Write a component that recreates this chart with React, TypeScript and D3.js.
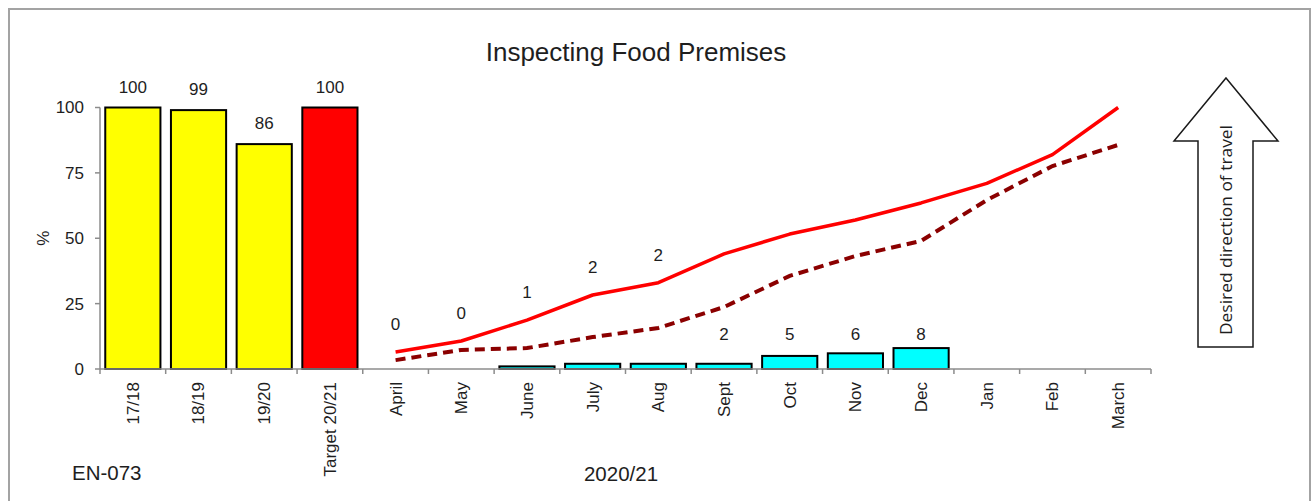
import React from "react";
import * as d3 from "d3";

// annual results + target
const annualLabels = ["17/18", "18/19", "19/20", "Target 20/21"];
const annualValues = [100, 99, 86, 100];

// monthly 2020/21
const months = ["April", "May", "June", "July", "Aug", "Sept", "Oct", "Nov", "Dec", "Jan", "Feb", "March"];
const monthlyActual = [0, 0, 1, 2, 2, 2, 5, 6, 8, null, null, null];
const targetProfile = [6.5, 10.7, 18.7, 28.3, 33, 44, 51.6, 57, 63.5, 71, 82, 100];
const lastYearProfile = [3.4, 7.3, 8, 12.2, 15.7, 23.7, 35.6, 43.2, 49, 64.6, 77.6, 85.7];

const yTicks = [0, 25, 50, 75, 100];

const W = 1316;
const H = 501;
const FONT = "'Liberation Sans', Arial, sans-serif";
const TEXT = "#1e1e1e";
const AXIS = "#8c8c8c";

const App = () => {
  const categories = [...annualLabels, ...months];
  const x = d3.scaleBand<string>().domain(categories).range([100, 1151]).padding(0);
  const y = d3.scaleLinear().domain([0, 100]).range([369, 107.5]);
  const bw = x.bandwidth() * 0.84;
  const cx = (c: string) => (x(c) as number) + x.bandwidth() / 2;

  const line = d3
    .line<number>()
    .x((_, i) => cx(months[i]))
    .y((d) => y(d));

  // month label: sit above the bar, but lift above the target line if a line gets in the way
  const monthLabelY = (i: number, v: number) => {
    const base = Math.min(y(v) - 8, y(11));
    const clash = [targetProfile[i], lastYearProfile[i]].some((p) => {
      const py = y(p);
      return py > base - 30 && py < base + 15;
    });
    return clash ? y(targetProfile[i]) - 22 : base;
  };

  return (
    <svg
      width={W}
      height={H}
      style={{ position: "absolute", left: 0, top: 0, background: "#fff" }}
      fontFamily={FONT}
    >
      <rect x={9} y={9} width={1301} height={520} fill="#fff" stroke="#a3a3a3" strokeWidth={2} />

      <text x={636} y={61} textAnchor="middle" fontSize={26} fill={TEXT}>
        Inspecting Food Premises
      </text>

      {/* y axis */}
      <line x1={100} x2={100} y1={y(100)} y2={y(0)} stroke={AXIS} strokeWidth={1.5} />
      {yTicks.map((t) => (
        <g key={t}>
          <line x1={95} x2={100} y1={y(t)} y2={y(t)} stroke={AXIS} strokeWidth={1.5} />
          <text x={84} y={y(t)} dy="0.35em" textAnchor="end" fontSize={17} fill={TEXT}>
            {t}
          </text>
        </g>
      ))}
      <text
        transform={`translate(43,${y(50)}) rotate(-90)`}
        textAnchor="middle"
        dy="0.35em"
        fontSize={17}
        fill={TEXT}
      >
        %
      </text>

      {/* annual bars */}
      {annualLabels.map((c, i) => (
        <g key={c}>
          <rect
            x={cx(c) - bw / 2}
            y={y(annualValues[i])}
            width={bw}
            height={y(0) - y(annualValues[i])}
            fill={i === 3 ? "#ff0000" : "#ffff00"}
            stroke="#000"
            strokeWidth={2}
          />
          <text x={cx(c)} y={y(annualValues[i]) - 15} textAnchor="middle" fontSize={17} fill={TEXT}>
            {annualValues[i]}
          </text>
        </g>
      ))}

      {/* monthly bars */}
      {months.map((m, i) => {
        const v = monthlyActual[i];
        if (v == null) return null;
        return (
          <g key={m}>
            {v > 0 && (
              <rect
                x={cx(m) - bw / 2}
                y={y(v)}
                width={bw}
                height={y(0) - y(v)}
                fill="#00ffff"
                stroke="#000"
                strokeWidth={2}
              />
            )}
            <text x={cx(m)} y={monthLabelY(i, v)} textAnchor="middle" fontSize={17} fill={TEXT}>
              {v}
            </text>
          </g>
        );
      })}

      {/* x axis */}
      <line x1={100} x2={1151} y1={y(0)} y2={y(0)} stroke={AXIS} strokeWidth={1.5} />
      {categories.map((c) => (
        <line key={c} x1={x(c)} x2={x(c)} y1={y(0)} y2={y(0) + 5} stroke={AXIS} strokeWidth={1.5} />
      ))}
      <line x1={1151} x2={1151} y1={y(0)} y2={y(0) + 5} stroke={AXIS} strokeWidth={1.5} />
      {categories.map((c) => (
        <text
          key={c}
          transform={`translate(${cx(c)},${y(0) + 13}) rotate(-90)`}
          textAnchor="end"
          dy="0.35em"
          fontSize={17}
          fill={TEXT}
        >
          {c}
        </text>
      ))}

      {/* profiles */}
      <path d={line(lastYearProfile) || ""} fill="none" stroke="#8b0000" strokeWidth={4} strokeDasharray="10 6" />
      <path d={line(targetProfile) || ""} fill="none" stroke="#ff0000" strokeWidth={3.5} strokeLinejoin="round" />

      <text x={72} y={480} fontSize={20.5} fill={TEXT}>
        EN-073
      </text>
      <text x={621} y={481} textAnchor="middle" fontSize={20.5} fill={TEXT}>
        2020/21
      </text>

      {/* direction arrow */}
      <path
        d="M1226,78 L1278,141 L1253,141 L1253,347 L1198,347 L1198,141 L1174,141 Z"
        fill="#fff"
        stroke="#1a1a1a"
        strokeWidth={1.5}
      />
      <text
        transform="translate(1226,230) rotate(-90)"
        textAnchor="middle"
        dy="0.35em"
        fontSize={17}
        fontFamily="'Open Sans', 'Noto Sans', sans-serif"
        textLength={210}
        lengthAdjust="spacingAndGlyphs"
        fill={TEXT}
      >
        Desired direction of travel
      </text>
    </svg>
  );
};

export default App;
